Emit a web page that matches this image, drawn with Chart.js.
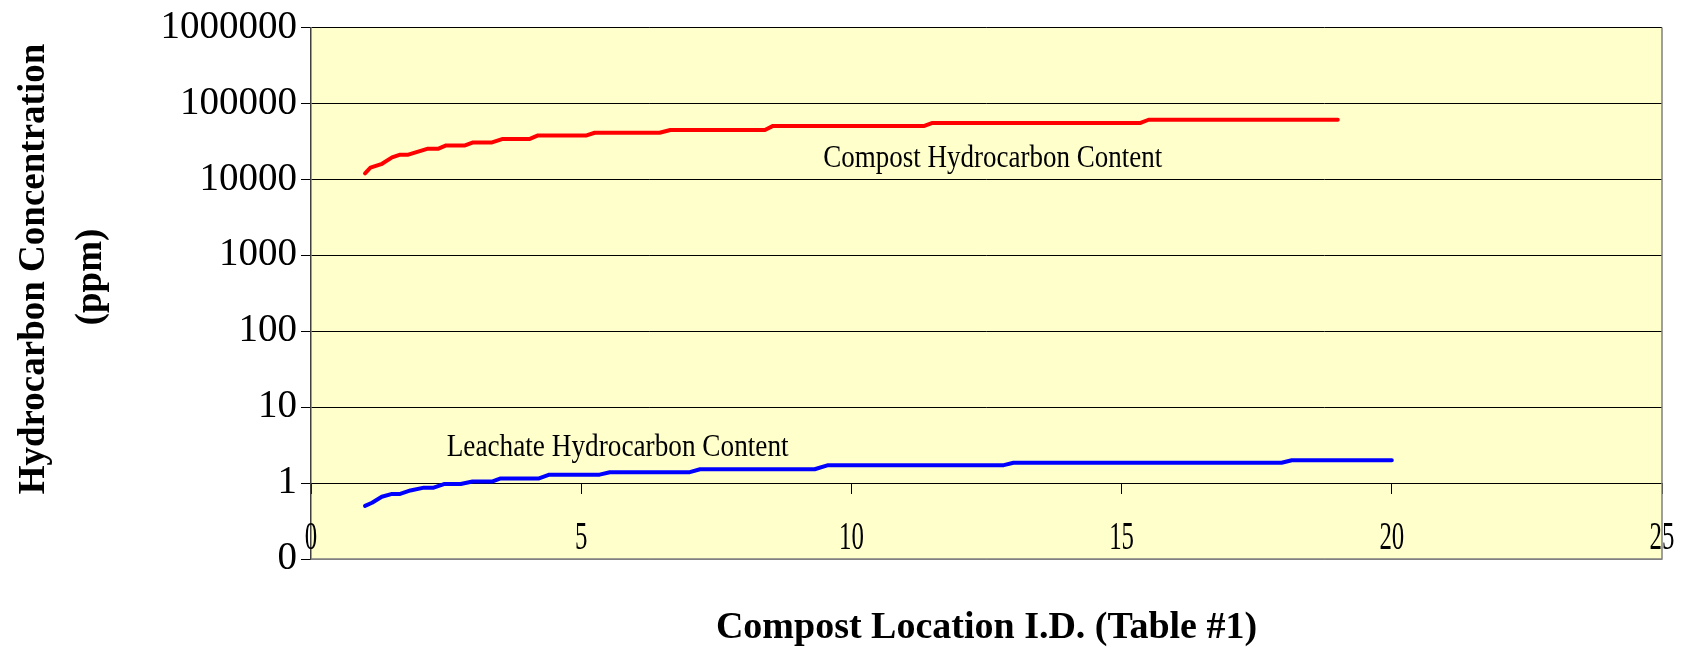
<!DOCTYPE html>
<html>
<head>
<meta charset="utf-8">
<script src="https://cdn.jsdelivr.net/npm/chart.js@4.4.1/dist/chart.umd.min.js"></script>
<style>
  html, body { margin: 0; padding: 0; background: #fff; }
  #wrap { width: 1688px; height: 651px; position: relative; }
</style>
</head>
<body>
<div id="wrap"><canvas id="chart"></canvas></div>
<script>
// values
const compostX = [1, 1.1, 1.3, 1.5, 1.65, 1.8, 2.15, 2.35, 2.5, 2.85, 3.0, 3.35, 3.55, 4.05, 4.2, 5.1, 5.25, 6.45, 6.65, 8.4, 8.55, 11.35, 11.5, 15.35, 15.5, 19];
const compostY = [12000, 14200, 15800, 19400, 21100, 21100, 25200, 25200, 27900, 27900, 30600, 30600, 34000, 34000, 37800, 37800, 41000, 41000, 44600, 44600, 50500, 50500, 55300, 55300, 60800, 60800];
const leachateX = [1, 1.13, 1.31, 1.5, 1.65, 1.84, 2.09, 2.27, 2.46, 2.77, 2.99, 3.36, 3.51, 4.22, 4.41, 5.34, 5.53, 7.01, 7.2, 9.32, 9.57, 12.82, 13.0, 17.96, 18.15, 20];
const leachateY = [0.5, 0.55, 0.66, 0.72, 0.72, 0.8, 0.87, 0.87, 0.97, 0.97, 1.05, 1.05, 1.15, 1.15, 1.29, 1.29, 1.39, 1.39, 1.52, 1.52, 1.72, 1.72, 1.85, 1.85, 2.0, 2.0];

const xTicks = [0, 5, 10, 15, 20, 25];
const yTicks = [0.1, 1, 10, 100, 1000, 10000, 100000, 1000000];

const seriesNames = ['Compost Hydrocarbon Content', 'Leachate Hydrocarbon Content'];
const seriesLabelAt = [[9.48, 14400], [2.51, 2.3]];
const yTitle = ['Hydrocarbon Concentration', '(ppm)'];
const xTitle = 'Compost Location I.D. (Table #1)';

const SERIF = '"Liberation Serif", "Times New Roman", serif';
Chart.defaults.font.family = SERIF;
Chart.defaults.color = '#000';

const toPoints = (xs, ys) => xs.map((x, i) => ({ x: x, y: ys[i] }));

const plotBackground = {
  id: 'plotBackground',
  beforeDraw(chart) {
    const { ctx, chartArea: a } = chart;
    ctx.save();
    ctx.fillStyle = '#FFFFCC';
    ctx.fillRect(a.left, a.top, a.right - a.left, a.bottom - a.top);
    ctx.restore();
  },
};

const extraText = {
  id: 'extraText',
  afterDraw(chart) {
    const { ctx, chartArea: a } = chart;
    const xs = chart.scales.x;
    const ys = chart.scales.y;
    ctx.save();

    // plot border, right + bottom
    ctx.strokeStyle = '#808080';
    ctx.lineWidth = 1.5;
    ctx.beginPath();
    ctx.moveTo(a.left, a.bottom);
    ctx.lineTo(a.right, a.bottom);
    ctx.lineTo(a.right, a.top);
    ctx.stroke();

    // x tick labels, narrow like the original
    ctx.fillStyle = '#000';
    ctx.font = '40px ' + SERIF;
    ctx.textAlign = 'center';
    ctx.textBaseline = 'alphabetic';
    xs.ticks.forEach(t => {
      const s = String(t.value);
      const w = ctx.measureText(s).width * 0.62;
      ctx.fillText(s, xs.getPixelForValue(t.value), 549, w);
    });

    // series labels
    ctx.font = '32px ' + SERIF;
    ctx.textAlign = 'left';
    const widths = [339, 342];
    seriesNames.forEach((name, i) => {
      const p = seriesLabelAt[i];
      ctx.fillText(name, xs.getPixelForValue(p[0]), ys.getPixelForValue(p[1]), widths[i]);
    });

    // x title
    ctx.font = 'bold 38px ' + SERIF;
    ctx.textAlign = 'center';
    ctx.fillText(xTitle, (a.left + a.right) / 2, 638);

    // y title
    ctx.font = 'bold 37px ' + SERIF;
    ctx.textBaseline = 'middle';
    const yCol = [34, 91];
    const yMid = [269, 277];
    yTitle.forEach((line, i) => {
      ctx.save();
      ctx.translate(yCol[i], yMid[i]);
      ctx.rotate(-Math.PI / 2);
      ctx.fillText(line, 0, 0);
      ctx.restore();
    });

    ctx.restore();
  },
};

new Chart(document.getElementById('chart'), {
  type: 'scatter',
  data: {
    datasets: [
      {
        label: seriesNames[0],
        data: toPoints(compostX, compostY),
        showLine: true,
        borderColor: '#FF0000',
        borderWidth: 4,
        pointRadius: 0,
        borderJoinStyle: 'round',
        borderCapStyle: 'round',
        fill: false,
      },
      {
        label: seriesNames[1],
        data: toPoints(leachateX, leachateY),
        showLine: true,
        borderColor: '#0000FF',
        borderWidth: 4,
        pointRadius: 0,
        borderJoinStyle: 'round',
        borderCapStyle: 'round',
        fill: false,
      },
    ],
  },
  options: {
    responsive: true,
    maintainAspectRatio: false,
    animation: false,
    events: [],
    layout: { padding: { top: 26, right: 26, bottom: 92, left: 0 } },
    scales: {
      x: {
        type: 'linear',
        min: 0,
        max: 25,
        position: { y: 1 },
        afterBuildTicks: s => { s.ticks = xTicks.map(v => ({ value: v })); },
        ticks: { display: false },
        grid: { drawOnChartArea: false, drawTicks: true, tickLength: 10, tickColor: '#000' },
        border: { color: '#000', width: 1 },
      },
      y: {
        type: 'logarithmic',
        min: 0.1,
        max: 1000000,
        afterBuildTicks: s => { s.ticks = yTicks.map(v => ({ value: v })); },
        afterFit: s => { s.width = 311; },
        ticks: {
          callback: v => (v < 1 ? '0' : String(v)),
          font: { size: 39 },
          color: '#000',
          padding: 4,
        },
        grid: {
          color: c => (c.tick && c.tick.value === 0.1 ? '#808080' : '#000'),
          tickColor: '#000',
          tickLength: 10,
          lineWidth: 1,
        },
        border: { color: '#404040', width: 1.5 },
      },
    },
    plugins: {
      legend: { display: false },
      tooltip: { enabled: false },
    },
  },
  plugins: [plotBackground, extraText],
});
</script>
</body>
</html>
